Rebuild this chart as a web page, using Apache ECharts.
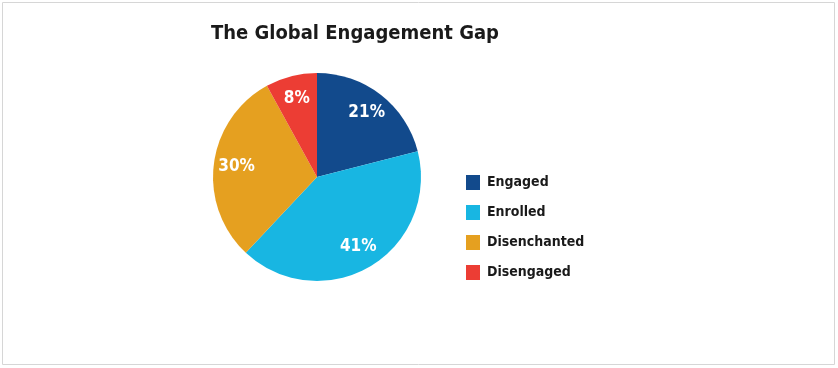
<!DOCTYPE html>
<html><head><meta charset="utf-8">
<script src="https://cdn.jsdelivr.net/npm/echarts@6/dist/echarts.min.js"></script>
<style>html,body{margin:0;padding:0;background:#fff}#c{width:838px;height:368px}</style>
</head><body><div id="c"></div>
<script>
const titleText = "The Global Engagement Gap";
const categories = ["Engaged", "Enrolled", "Disenchanted", "Disengaged"];
const values = [21, 41, 30, 8];
const colors = ["#124a8c", "#18b6e2", "#e5a020", "#ec3d34"];

const data = categories.map((n, i) => ({ name: n, value: values[i], itemStyle: { color: colors[i] } }));
const labelData = categories.map((n, i) => ({ name: n, value: values[i] }));
const font = '"DejaVu Sans Condensed", "Liberation Sans Narrow", sans-serif';

const chart = echarts.init(document.getElementById('c'), null, { renderer: 'canvas' });
chart.setOption({
  backgroundColor: '#fff',
  animation: false,
  graphic: [{ type: 'rect', shape: { x: 2.5, y: 2.5, width: 832, height: 362 }, style: { fill: 'none', stroke: '#d6d6d6', lineWidth: 1 }, silent: true }],
  title: { text: titleText, left: 206, top: 19, textStyle: { fontFamily: font, fontWeight: 'bold', fontSize: 20, color: '#1a1a1a' } },
  legend: {
    orient: 'vertical', left: 461, top: 170, itemGap: 15, itemWidth: 14, itemHeight: 15,
    icon: 'rect', selectedMode: false,
    data: categories,
    textStyle: { fontFamily: font, fontWeight: 'bold', fontSize: 14, color: '#1a1a1a', padding: [0, 0, 0, 2] }
  },
  series: [
    {
      type: 'pie', center: [317, 177], radius: [0, 104], startAngle: 90, clockwise: true,
      data: data, label: { show: false }, labelLine: { show: false },
      emphasis: { disabled: true }, silent: true
    },
    {
      type: 'pie', center: [317, 177], radius: [52, 104], startAngle: 90, clockwise: true,
      data: labelData, itemStyle: { color: 'rgba(0,0,0,0)' },
      label: { show: true, position: 'inner', formatter: '{c}%', color: '#fff', fontFamily: font, fontWeight: 'bold', fontSize: 17 },
      labelLine: { show: false }, emphasis: { disabled: true }, silent: true, legendHoverLink: false
    }
  ]
});
</script></body></html>
